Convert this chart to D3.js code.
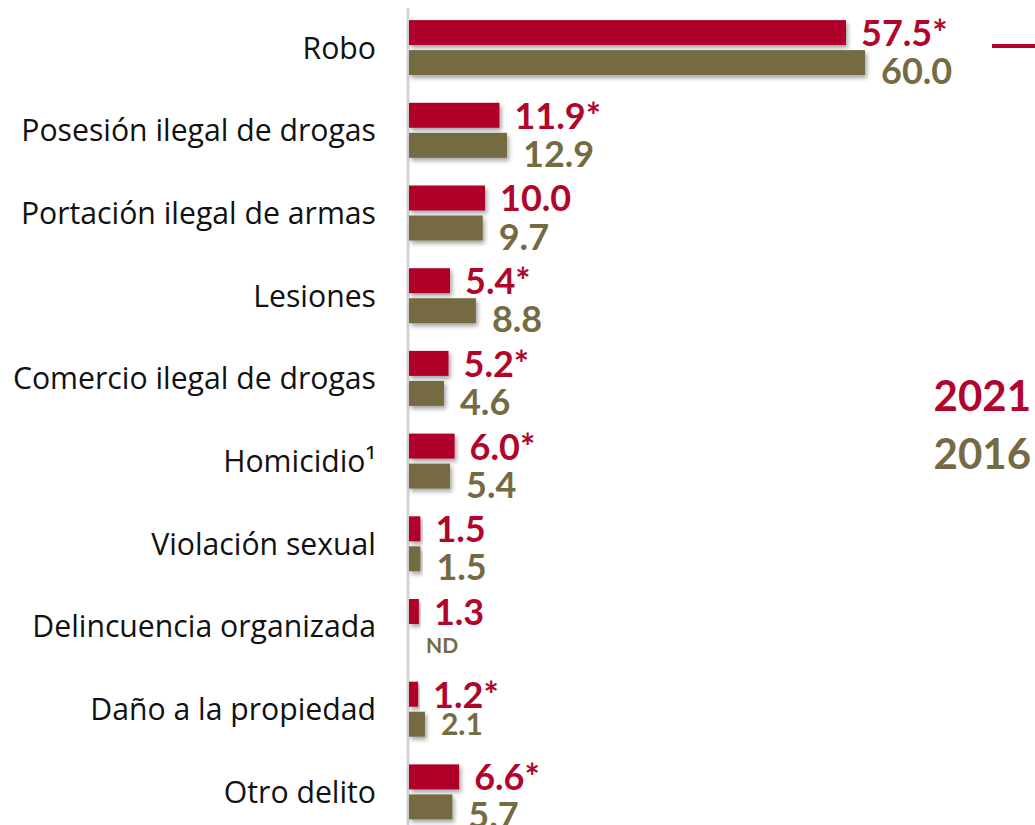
<!DOCTYPE html>
<html>
<head>
<meta charset="utf-8">
<script src="https://cdn.jsdelivr.net/npm/d3@7"></script>
<style>
    body { margin: 0; background: #fff; }
    svg { display: block; }
</style>
</head>
<body>
<svg id="chart" width="1035" height="825"></svg>
<script>
// categories (top to bottom)
const categories = [
    "Robo",
    "Posesión ilegal de drogas",
    "Portación ilegal de armas",
    "Lesiones",
    "Comercio ilegal de drogas",
    "Homicidio¹",
    "Violación sexual",
    "Delincuencia organizada",
    "Daño a la propiedad",
    "Otro delito"
];
const series = ["2021", "2016"];
const values2021 = [57.5, 11.9, 10.0, 5.4, 5.2, 6.0, 1.5, 1.3, 1.2, 6.6];
const values2016 = [60.0, 12.9, 9.7, 8.8, 4.6, 5.4, 1.5, null, 2.1, 5.7];
// significant difference marker
const signif2021 = [true, true, false, true, true, true, false, false, true, true];

const colors = { "2021": "#b0062c", "2016": "#756b43" };
const smallLabelCats = ["Daño a la propiedad"]; // olive label drawn smaller there

const svg = d3.select("#chart");
const width = 1035, height = 825;

// drop shadow for bars
const defs = svg.append("defs");
const f = defs.append("filter").attr("id", "shadow")
    .attr("x", "-10%").attr("y", "-30%").attr("width", "130%").attr("height", "190%");
f.append("feDropShadow")
    .attr("dx", 2).attr("dy", 3).attr("stdDeviation", 2)
    .attr("flood-color", "#000").attr("flood-opacity", 0.35);

const x = d3.scaleLinear()
    .domain([0, 60])
    .range([409, 865]);

const y = d3.scaleBand()
    .domain(categories)
    .range([6.6, 833.6]);

const ySub = d3.scaleBand()
    .domain(series)
    .range([13.5, 68.5])
    .paddingInner(0.167);

const rows = categories.map((c, i) => ({
    cat: c,
    bars: [
        { s: "2021", cat: c, v: values2021[i], label: values2021[i].toFixed(1) + (signif2021[i] ? "*" : "") },
        { s: "2016", cat: c, v: values2016[i], label: values2016[i] == null ? "ND" : values2016[i].toFixed(1) }
    ]
}));

// axis line
svg.append("line")
    .attr("x1", x(0) - 1).attr("x2", x(0) - 1)
    .attr("y1", 8).attr("y2", height)
    .attr("stroke", "#d4d4d4")
    .attr("stroke-width", 3);

// category labels
svg.append("g")
    .selectAll("text")
    .data(categories)
    .enter()
    .append("text")
    .attr("x", 376)
    .attr("y", d => y(d) + y.bandwidth() / 2)
    .attr("dy", "0.35em")
    .attr("text-anchor", "end")
    .attr("fill", "#111")
    .style("font-family", "'Open Sans', sans-serif")
    .style("font-size", "30.2px")
    .text(d => d);

const groups = svg.append("g")
    .selectAll("g")
    .data(rows)
    .enter()
    .append("g")
    .attr("transform", d => `translate(0,${y(d.cat)})`);

// bars
groups.selectAll("rect")
    .data(d => d.bars.filter(b => b.v != null))
    .enter()
    .append("rect")
    .attr("x", x(0))
    .attr("y", d => ySub(d.s))
    .attr("width", d => x(d.v) - x(0))
    .attr("height", ySub.bandwidth())
    .attr("fill", d => colors[d.s])
    .attr("filter", "url(#shadow)");

// value labels
groups.selectAll("text")
    .data(d => d.bars)
    .enter()
    .append("text")
    .attr("x", d => d.v == null ? x(0) + 17 : x(d.v) + (d.s === "2021" ? 15 : 16))
    .attr("y", d => {
        const bottom = ySub(d.s) + ySub.bandwidth();
        if (d.s === "2021") return bottom + 1;
        if (d.v == null) return bottom - 1;
        if (smallLabelCats.includes(d.cat)) return bottom - 2;
        return bottom + 9;
    })
    .attr("fill", d => colors[d.s])
    .style("font-family", "Lato, sans-serif")
    .style("font-weight", "bold")
    .style("font-size", d => {
        if (d.v == null) return "21px";
        if (d.s === "2016" && smallLabelCats.includes(d.cat)) return "30px";
        return "36px";
    })
    .text(d => d.label);

// legend
svg.append("line")
    .attr("x1", 992).attr("x2", 1035)
    .attr("y1", 46).attr("y2", 46)
    .attr("stroke", colors["2021"])
    .attr("stroke-width", 4);

svg.append("g")
    .selectAll("text")
    .data(series)
    .enter()
    .append("text")
    .attr("x", 1031)
    .attr("y", (d, i) => 411 + i * 58)
    .attr("text-anchor", "end")
    .attr("fill", d => colors[d])
    .style("font-family", "Lato, sans-serif")
    .style("font-weight", "bold")
    .style("font-size", "42px")
    .text(d => d);
</script>
</body>
</html>
